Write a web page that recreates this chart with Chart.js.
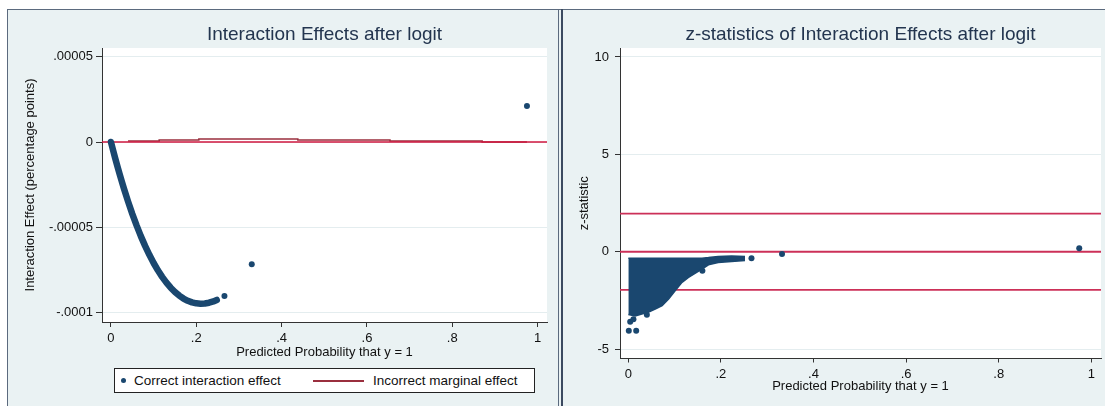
<!DOCTYPE html>
<html>
<head>
<meta charset="utf-8">
<script src="https://cdn.jsdelivr.net/npm/chart.js@4.4.0/dist/chart.umd.min.js"></script>
<style>
  html, body { margin: 0; padding: 0; background: #fff; width: 1105px; height: 406px; overflow: hidden;
    font-family: "Liberation Sans", Arial, sans-serif; }
  .panel { position: absolute; background: #eaf2f3; box-sizing: border-box; }
  #panelLeft { left: 7px; top: 9px; width: 552px; height: 410px; border: 1px solid #5b6a7e; }
  #panelRight { left: 559px; top: 9px; width: 560px; height: 410px; border-top: 1px solid #5b6a7e; }
  #divider { position: absolute; left: 561px; top: 9px; width: 2px; height: 400px; background: #3b4a60; }
  canvas { position: absolute; left: 0; top: 0; }
  #legendBox { position: absolute; left: 106px; top: 358px; width: 421px; height: 25px; box-sizing: border-box;
    background: #fff; border: 1px solid #222; font-size: 13.5px; color: #111; }
  #legendBox span { position: absolute; }
  .lg-text { top: 0; line-height: 23px; white-space: nowrap; }
</style>
</head>
<body>
<div class="panel" id="panelLeft">
  <canvas id="ieChart" width="550" height="396" style="width:550px;height:396px"></canvas>
  <div id="legendBox"></div>
</div>
<div class="panel" id="panelRight">
  <canvas id="zChart" width="542" height="396" style="left:4px;width:542px;height:396px"></canvas>
</div>
<div id="divider"></div>
<script>
// ---- tick positions and labels ----
const probTicks = [0, 0.2, 0.4, 0.6, 0.8, 1];
const probTickLabels = ['0', '.2', '.4', '.6', '.8', '1'];
const ieTicks = [-0.0001, -0.00005, 0, 0.00005];
const ieTickLabels = ['-.0001', '-.00005', '0', '.00005'];
const zTicks = [-5, 0, 5, 10];
const zTickLabels = ['-5', '0', '5', '10'];

// ---- interaction effect by predicted probability (dense band) ----
const bandProb = [0, 0.005, 0.01, 0.015, 0.02, 0.025, 0.03, 0.04, 0.05, 0.06, 0.07, 0.08, 0.09, 0.10,
  0.11, 0.12, 0.13, 0.14, 0.15, 0.16, 0.17, 0.18, 0.19, 0.20, 0.21, 0.22, 0.23, 0.24, 0.248];
const bandEffect = [0, -4.85e-6, -9.56e-6, -1.412e-5, -1.853e-5, -2.281e-5, -2.694e-5, -3.480e-5, -4.211e-5,
  -4.889e-5, -5.515e-5, -6.090e-5, -6.615e-5, -7.092e-5, -7.522e-5, -7.905e-5, -8.244e-5, -8.539e-5,
  -8.791e-5, -9.002e-5, -9.173e-5, -9.305e-5, -9.399e-5, -9.456e-5, -9.478e-5, -9.465e-5, -9.420e-5,
  -9.343e-5, -9.258e-5];
// isolated observations
const singleProb = [0.266, 0.330, 0.975];
const singleEffect = [-9.03e-5, -7.17e-5, 2.11e-5];

// ---- incorrect marginal effect (stepped) ----
const marginalProb = [0.040, 0.113, 0.206, 0.438, 0.654, 0.870, 0.975];
const marginalEffect = [5.9e-7, 1.17e-6, 1.76e-6, 1.17e-6, 5.9e-7, 0, 0];

// ---- z-statistics: outline of the dense cloud ----
const zEdgeProb = [0, 0.015, 0.029, 0.044, 0.058, 0.073, 0.087, 0.101, 0.116, 0.130, 0.144, 0.159, 0.173, 0.194, 0.223, 0.252];
const zEdgeUpper = [-0.33, -0.33, -0.33, -0.33, -0.33, -0.33, -0.33, -0.33, -0.33, -0.33, -0.33, -0.33, -0.30, -0.24, -0.22, -0.25];
const zEdgeLower = [-3.22, -3.30, -3.20, -3.10, -2.94, -2.77, -2.43, -2.00, -1.57, -1.32, -1.11, -0.89, -0.67, -0.55, -0.50, -0.45];
// scattered z-statistics outside the cloud
const zSingleProb = [0.001, 0.017, 0.004, 0.011, 0.040, 0.160, 0.266, 0.332, 0.974];
const zSingleStat = [-4.05, -4.05, -3.59, -3.47, -3.24, -0.97, -0.33, -0.11, 0.18];
// reference lines
const ieRefLines = [0];
const zRefLines = [-1.96, 0, 1.96];

// ---- axis ranges ----
const ieProbRange = [-0.021, 1.022];
const ieRange = [-1.055e-4, 5.51e-5];
const zProbRange = [-0.018, 1.021];
const zRange = [-5.48, 10.46];

const NAVY = '#1a476f';
const MAROON = '#9a2f3e';
const RED = '#d0173f';
const ZRED = '#cc3058';
const GRID = '#e4edef';
const AXIS = '#333';
const TEXT = '#111';
const TITLE = '#23354f';

Chart.defaults.font.family = '"Liberation Sans", Arial, sans-serif';
Chart.defaults.animation = false;

const pts = (xs, ys) => xs.map((x, i) => ({x, y: ys[i]}));

const plotBackground = {
  id: 'plotBackground',
  beforeDraw(chart) {
    const {ctx, chartArea: a} = chart;
    ctx.save();
    ctx.fillStyle = '#fff';
    ctx.fillRect(a.left, a.top, a.right - a.left, a.bottom - a.top);
    ctx.restore();
  }
};

function xAxis(range, tl, pad, h, titlePadBottom) {
  return {
    type: 'linear', min: range[0], max: range[1],
    afterBuildTicks(s) { s.ticks = probTicks.map(v => ({value: v})); },
    afterFit(s) { s.height = h; },
    ticks: { callback: v => probTickLabels[probTicks.indexOf(v)], color: TEXT, font: {size: 13}, padding: pad, maxRotation: 0 },
    grid: { drawOnChartArea: false, drawTicks: true, tickLength: tl, tickColor: AXIS, tickWidth: 1 },
    border: { display: true, color: AXIS, width: 1 },
    title: { display: true, text: 'Predicted Probability that y = 1', color: TEXT, font: {size: 13},
      padding: {top: 0, bottom: titlePadBottom} }
  };
}

function yAxis(range, ticks, labels, w, tl, pad, titleText, titlePadTop) {
  return {
    type: 'linear', min: range[0], max: range[1],
    afterBuildTicks(s) { s.ticks = ticks.map(v => ({value: v})); },
    afterFit(s) { s.width = w; },
    ticks: { callback: v => labels[ticks.indexOf(v)], color: TEXT, font: {size: 13}, padding: pad },
    grid: { color: GRID, lineWidth: 1, drawTicks: true, tickLength: tl, tickColor: AXIS, tickWidth: 1 },
    border: { display: true, color: AXIS, width: 1 },
    title: { display: true, text: titleText, color: TEXT, font: {size: 13}, padding: {top: titlePadTop, bottom: 0} }
  };
}

function titleOpts(text) {
  return { display: true, text, fullSize: false, color: TITLE, font: {size: 19, weight: 'normal'},
    padding: {top: 13.6, bottom: 1.6} };
}

// ---------------- left: interaction effects ----------------
const ieChart = new Chart(document.getElementById('ieChart'), {
  type: 'line',
  data: {
    datasets: [
      { label: 'Correct interaction effect', legendMark: 'point', data: pts(bandProb, bandEffect),
        borderColor: NAVY, backgroundColor: NAVY, borderWidth: 6.5, borderCapStyle: 'round', borderJoinStyle: 'round',
        pointRadius: 0, tension: 0, fill: false, order: 0 },
      { label: 'Correct interaction effect (isolated)', data: pts(singleProb, singleEffect), showLine: false,
        pointRadius: 3, pointBorderWidth: 0, pointBackgroundColor: NAVY, order: 0 },
      { label: 'Incorrect marginal effect', legendMark: 'line', data: pts(marginalProb, marginalEffect),
        stepped: true, borderColor: MAROON, borderWidth: 1.5, pointRadius: 0, fill: false, order: 2 },
      ...ieRefLines.map(v => ({ label: 'ref', data: pts(ieProbRange, [v, v]), borderColor: RED, borderWidth: 1.5,
        pointRadius: 0, fill: false, order: 1 }))
    ]
  },
  options: {
    responsive: false, devicePixelRatio: 1,
    layout: { padding: {left: 0, right: 11, top: 0, bottom: 43} },
    scales: {
      x: xAxis(ieProbRange, 5, 3.7, 41, 2.7),
      y: yAxis(ieRange, ieTicks, ieTickLabels, 94, 6, 3, 'Interaction Effect (percentage points)', 14.2)
    },
    plugins: { legend: {display: false}, tooltip: {enabled: false}, title: titleOpts('Interaction Effects after logit') }
  },
  plugins: [plotBackground]
});

// legend built from the datasets flagged for it
(function buildLegend() {
  const box = document.getElementById('legendBox');
  const slots = [{mark: 6, text: 19}, {mark: 198, text: 258}];
  ieChart.data.datasets.filter(d => d.legendMark).forEach((d, i) => {
    const s = slots[i];
    const mark = document.createElement('span');
    if (d.legendMark === 'point') {
      Object.assign(mark.style, {left: s.mark + 'px', top: '9px', width: '5px', height: '5px', borderRadius: '50%', background: d.backgroundColor});
    } else {
      Object.assign(mark.style, {left: s.mark + 'px', top: '11px', width: '51px', height: '1.5px', background: d.borderColor});
    }
    const txt = document.createElement('span');
    txt.className = 'lg-text';
    txt.style.left = s.text + 'px';
    txt.textContent = d.label;
    box.appendChild(mark);
    box.appendChild(txt);
  });
})();

// ---------------- right: z-statistics ----------------
new Chart(document.getElementById('zChart'), {
  type: 'line',
  data: {
    datasets: [
      { label: 'z upper', data: pts(zEdgeProb, zEdgeUpper), borderColor: NAVY, borderWidth: 1.5, pointRadius: 0,
        tension: 0, fill: false, order: 0 },
      { label: 'z lower', data: pts(zEdgeProb, zEdgeLower), borderColor: NAVY, borderWidth: 1.5, pointRadius: 0,
        tension: 0, fill: '-1', backgroundColor: NAVY, order: 0 },
      { label: 'z single', data: pts(zSingleProb, zSingleStat), showLine: false, pointRadius: 3, pointBorderWidth: 0,
        pointBackgroundColor: NAVY, order: 0 },
      ...zRefLines.map(v => ({ label: 'ref', data: pts(zProbRange, [v, v]), borderColor: ZRED, borderWidth: 1.8,
        pointRadius: 0, fill: false, order: 1 }))
    ]
  },
  options: {
    responsive: false, devicePixelRatio: 1,
    layout: { padding: {left: 0, right: 3, top: 0, bottom: 9.5} },
    scales: {
      x: xAxis(zProbRange, 4, 4, 38, 2),
      y: yAxis(zRange, zTicks, zTickLabels, 57, 5, 6, 'z-statistic', 13.2)
    },
    plugins: { legend: {display: false}, tooltip: {enabled: false},
      title: titleOpts('z-statistics of Interaction Effects after logit') }
  },
  plugins: [plotBackground]
});
</script>
</body>
</html>
